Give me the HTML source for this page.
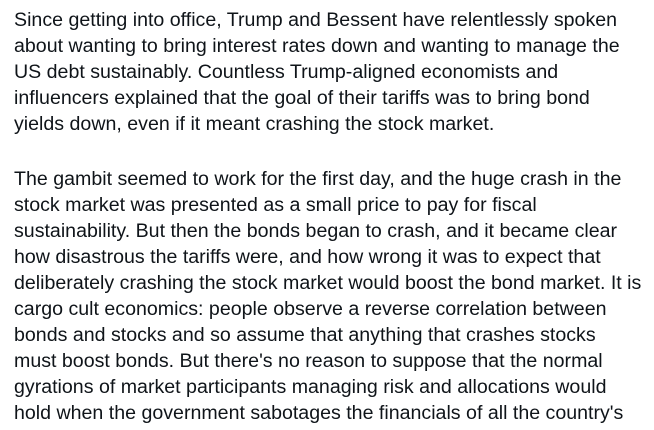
<!DOCTYPE html>
<html><head><meta charset="utf-8">
<style>
html,body{margin:0;padding:0;background:#fff;}
body{width:654px;height:430px;overflow:hidden;}
.t{position:absolute;left:14px;top:7px;font-family:"Liberation Sans",sans-serif;font-size:19.6px;line-height:26px;color:#0f1419;white-space:nowrap;}
p{margin:0;}
.g{height:29px;}
</style></head><body>
<div class="t">
<p>Since getting into office, Trump and Bessent have relentlessly spoken<br>
about wanting to bring interest rates down and wanting to manage the<br>
US debt sustainably. Countless Trump-aligned economists and<br>
influencers explained that the goal of their tariffs was to bring bond<br>
yields down, even if it meant crashing the stock market.</p>
<div class="g"></div>
<p>The gambit seemed to work for the first day, and the huge crash in the<br>
stock market was presented as a small price to pay for fiscal<br>
sustainability. But then the bonds began to crash, and it became clear<br>
how disastrous the tariffs were, and how wrong it was to expect that<br>
deliberately crashing the stock market would boost the bond market. It is<br>
cargo cult economics: people observe a reverse correlation between<br>
bonds and stocks and so assume that anything that crashes stocks<br>
must boost bonds. But there's no reason to suppose that the normal<br>
gyrations of market participants managing risk and allocations would<br>
hold when the government sabotages the financials of all the country's</p>
</div>
</body></html>
